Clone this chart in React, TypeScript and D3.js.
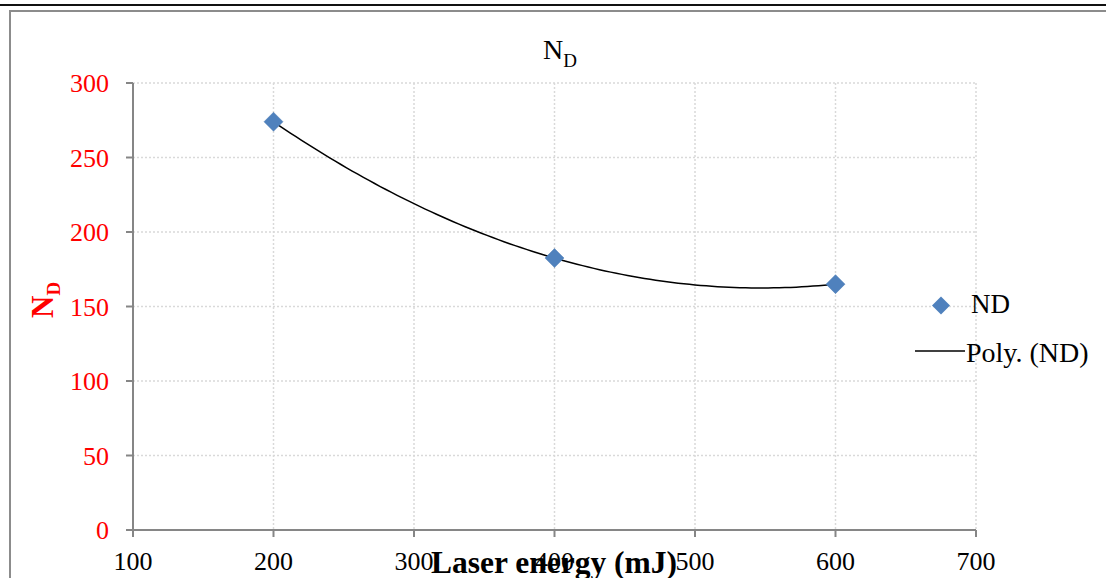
import React from "react";
import * as d3 from "d3";

const energies = [200, 400, 600];
const ndValues = [274, 182.5, 165];
const xTicks = [100, 200, 300, 400, 500, 600, 700];
const yTicks = [0, 50, 100, 150, 200, 250, 300];
const seriesName = "ND";
const trendName = "Poly. (ND)";
const xTitle = "Laser energy (mJ)";

// least squares fit of degree 2 (Excel "Poly." trendline)
const polyFit = (xs: number[], ys: number[]) => {
  const m = [0, 1, 2].map((r) => [0, 1, 2].map((c) => d3.sum(xs, (x) => x ** (r + c))));
  const v = [0, 1, 2].map((r) => d3.sum(xs, (x, i) => x ** r * ys[i]));
  // gaussian elimination
  const a = m.map((row, i) => [...row, v[i]]);
  for (let i = 0; i < 3; i++) {
    for (let k = i + 1; k < 3; k++) {
      const f = a[k][i] / a[i][i];
      for (let j = i; j < 4; j++) a[k][j] -= f * a[i][j];
    }
  }
  const c = [0, 0, 0];
  for (let i = 2; i >= 0; i--) {
    let s = a[i][3];
    for (let j = i + 1; j < 3; j++) s -= a[i][j] * c[j];
    c[i] = s / a[i][i];
  }
  return (x: number) => c[0] + c[1] * x + c[2] * x * x;
};

const App = () => {
  const width = 1106;
  const height = 578;
  const margin = { left: 133, right: 976, top: 83, bottom: 530 };
  const x = d3.scaleLinear().domain([100, 700]).range([margin.left, margin.right]);
  const y = d3.scaleLinear().domain([0, 300]).range([margin.bottom, margin.top]);
  const fit = polyFit(energies, ndValues);
  const [x0, x1] = d3.extent(energies) as [number, number];
  const trend = d3.range(0, 101).map((i) => {
    const e = x0 + ((x1 - x0) * i) / 100;
    return [e, fit(e)] as [number, number];
  });
  const line = d3
    .line<[number, number]>()
    .x((d) => x(d[0]))
    .y((d) => y(d[1]));
  const diamond = (cx: number, cy: number, r: number) =>
    `M${cx},${cy - r}L${cx + r},${cy}L${cx},${cy + r}L${cx - r},${cy}Z`;
  const axisColor = "#868686";
  const gridColor = "#d9d9d9";
  const font = "'Liberation Serif', 'Times New Roman', serif";

  return (
    <svg
      width={width}
      height={height}
      style={{ position: "absolute", left: 0, top: 0, background: "#fff" }}
      fontFamily={font}
    >
      <line x1={0} x2={width} y1={5} y2={5} stroke="#111" strokeWidth={2} />
      <rect x={10} y={11} width={width + 10} height={height} fill="none" stroke="#8c8c8c" strokeWidth={2} />

      {/* grid */}
      {yTicks.slice(1).map((t) => (
        <line key={"gy" + t} x1={margin.left} x2={margin.right} y1={y(t)} y2={y(t)} stroke={gridColor} strokeWidth={1.5} strokeDasharray="2,2" />
      ))}
      {xTicks.slice(1).map((t) => (
        <line key={"gx" + t} x1={x(t)} x2={x(t)} y1={margin.top} y2={margin.bottom} stroke={gridColor} strokeWidth={1.5} strokeDasharray="2,2" />
      ))}

      {/* axes */}
      <line x1={margin.left} x2={margin.left} y1={margin.top} y2={margin.bottom} stroke={axisColor} strokeWidth={2} />
      <line x1={margin.left} x2={margin.right} y1={margin.bottom} y2={margin.bottom} stroke={axisColor} strokeWidth={2} />
      {yTicks.map((t) => (
        <g key={"yt" + t}>
          <line x1={margin.left - 7} x2={margin.left} y1={y(t)} y2={y(t)} stroke={axisColor} strokeWidth={2} />
          <text x={margin.left - 24} y={y(t) + 9} textAnchor="end" fontSize={26} fill="#ff0000">
            {t}
          </text>
        </g>
      ))}
      {xTicks.map((t) => (
        <g key={"xt" + t}>
          <line x1={x(t)} x2={x(t)} y1={margin.bottom} y2={margin.bottom + 7} stroke={axisColor} strokeWidth={2} />
          <text x={x(t)} y={570} textAnchor="middle" fontSize={26} fill="#000">
            {t}
          </text>
        </g>
      ))}

      {/* trendline and points */}
      <path d={line(trend) ?? ""} fill="none" stroke="#000" strokeWidth={1.5} />
      {energies.map((e, i) => (
        <path key={"p" + e} d={diamond(x(e), y(ndValues[i]), 9.5)} fill="#4f81bd" stroke="#4a7ab5" strokeWidth={0.5} />
      ))}

      {/* title */}
      <text x={543} y={59} fontSize={28} fill="#000">
        N<tspan fontSize={19} dy={8}>D</tspan>
      </text>

      {/* y axis title */}
      <text transform="translate(53,318) rotate(-90)" fontSize={31} fontWeight="bold" fill="#ff0000">
        N<tspan fontSize={19} dy={7}>D</tspan>
      </text>

      {/* x axis title */}
      <text x={554} y={573} textAnchor="middle" fontSize={31.5} fontWeight="bold" fill="#000">
        {xTitle}
      </text>

      {/* legend */}
      <path d={diamond(941, 305.5, 9)} fill="#4f81bd" />
      <text x={971} y={313} fontSize={27} fill="#000">
        {seriesName}
      </text>
      <line x1={915} x2={965} y1={351} y2={351} stroke="#000" strokeWidth={1.5} />
      <text x={966} y={362} fontSize={28} fill="#000">
        {trendName}
      </text>
    </svg>
  );
};

export default App;
